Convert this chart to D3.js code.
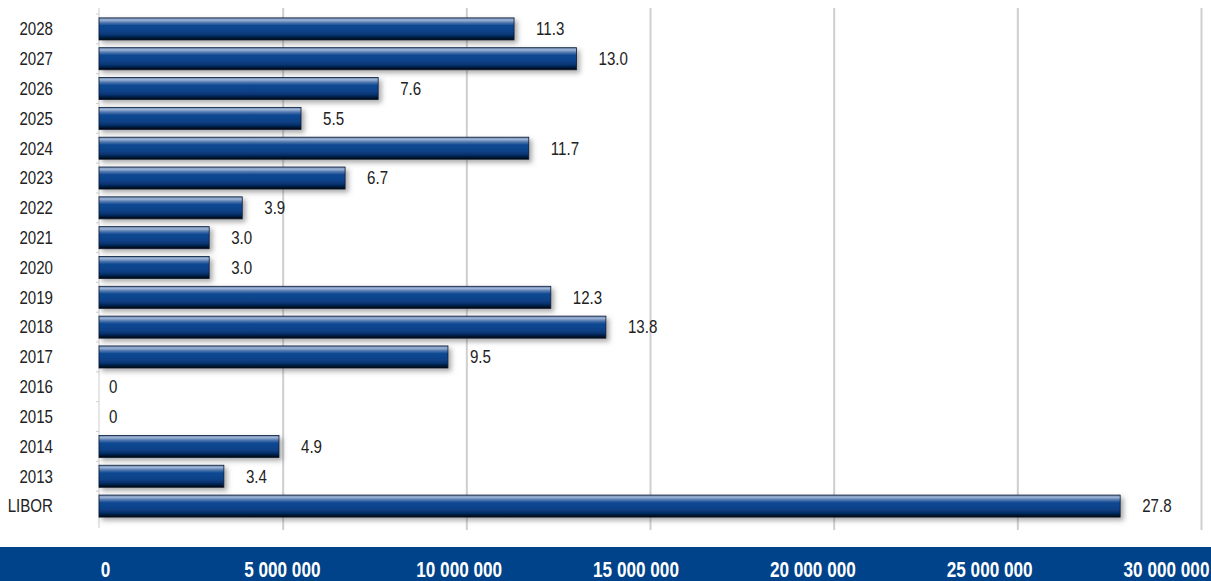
<!DOCTYPE html>
<html>
<head>
<meta charset="utf-8">
<script src="https://cdn.jsdelivr.net/npm/d3@7"></script>
<style>
  body { margin: 0; background: #fff; }
  svg { display: block; }
  text { font-family: "Liberation Sans", Arial, sans-serif; }
</style>
</head>
<body>
<svg id="chart" width="1211" height="581"></svg>
<script>
const width = 1211;
const height = 581;

const categories = ["2028", "2027", "2026", "2025", "2024", "2023", "2022", "2021", "2020",
  "2019", "2018", "2017", "2016", "2015", "2014", "2013", "LIBOR"];
const values = [11.3, 13.0, 7.6, 5.5, 11.7, 6.7, 3.9, 3.0, 3.0,
  12.3, 13.8, 9.5, 0, 0, 4.9, 3.4, 27.8];
const tickValues = [0, 5000000, 10000000, 15000000, 20000000, 25000000, 30000000];

const data = categories.map((c, i) => ({ cat: c, value: values[i] * 1e6, label: values[i] === 0 ? "0" : values[i].toFixed(1) }));

const svg = d3.select("#chart");

// Scales
const xScale = d3.scaleLinear().domain([0, 30000000]).range([99, 1201]);
const yScale = d3.scaleBand().domain(categories).range([14, 521]).paddingInner(0.26).paddingOuter(0.13);
// the labels in the blue band are not quite aligned with the grid
const labelScale = d3.scaleLinear().domain([0, 30000000]).range([105, 1166]);

// no narrow font installed, so squeeze text horizontally
const narrow = 0.84;

// Defs: bar gradient + shadow
const defs = svg.append("defs");
const grad = defs.append("linearGradient")
  .attr("id", "barGrad")
  .attr("x1", 0).attr("y1", 0).attr("x2", 0).attr("y2", 1);
[
  ["0%", "#6b86ad"],
  ["10%", "#9db4d6"],
  ["22%", "#4f76ad"],
  ["35%", "#0d4892"],
  ["62%", "#0a4289"],
  ["80%", "#06306a"],
  ["92%", "#021633"],
  ["100%", "#000000"]
].forEach(s => grad.append("stop").attr("offset", s[0]).attr("stop-color", s[1]));

const shadow = defs.append("filter").attr("id", "shadow")
  .attr("x", "-5%").attr("y", "-30%").attr("width", "115%").attr("height", "180%");
shadow.append("feDropShadow")
  .attr("dx", 3).attr("dy", 3).attr("stdDeviation", 2.5)
  .attr("flood-color", "#555").attr("flood-opacity", 0.5);

// Gridlines
const grid = svg.append("g")
  .attr("transform", "translate(0,530)")
  .call(d3.axisBottom(xScale).tickValues(tickValues.slice(1)).tickSize(-522).tickFormat(""));
grid.select(".domain").remove();
grid.selectAll("line").attr("stroke", "#cfcfcf").attr("stroke-width", 2);

// Left axis line with small ticks between rows
const leftAxis = svg.append("g");
leftAxis.append("line")
  .attr("x1", xScale(0)).attr("x2", xScale(0))
  .attr("y1", 8).attr("y2", 528)
  .attr("stroke", "#dedede").attr("stroke-width", 1.5);
leftAxis.selectAll(".tk")
  .data(categories)
  .enter()
  .append("line")
  .attr("x1", xScale(0) - 3).attr("x2", xScale(0))
  .attr("y1", d => yScale(d) - yScale.step() * yScale.paddingInner() / 2)
  .attr("y2", d => yScale(d) - yScale.step() * yScale.paddingInner() / 2)
  .attr("stroke", "#d0d0d0");

// Bars
svg.append("g")
  .selectAll("rect")
  .data(data.filter(d => d.value > 0))
  .enter()
  .append("rect")
  .attr("x", xScale(0))
  .attr("y", d => yScale(d.cat))
  .attr("width", d => xScale(d.value) - xScale(0))
  .attr("height", yScale.bandwidth())
  .attr("fill", "url(#barGrad)")
  .attr("stroke", "#061a38")
  .attr("stroke-width", 0.8)
  .attr("filter", "url(#shadow)");

// Value labels
svg.append("g")
  .selectAll("text")
  .data(data)
  .enter()
  .append("text")
  .attr("transform", d => "translate(" + (xScale(d.value) + (d.value > 0 ? 22 : 10)) + "," +
    (yScale(d.cat) + yScale.bandwidth() / 2) + ") scale(" + narrow + ",1)")
  .attr("dy", "0.35em")
  .attr("font-size", 18)
  .attr("fill", "#222")
  .text(d => d.label);

// Category labels
svg.append("g")
  .selectAll("text")
  .data(categories)
  .enter()
  .append("text")
  .attr("transform", d => "translate(53," + (yScale(d) + yScale.bandwidth() / 2) + ") scale(" + narrow + ",1)")
  .attr("dy", "0.35em")
  .attr("text-anchor", "end")
  .attr("font-size", 18)
  .attr("fill", "#222")
  .text(d => d);

// Bottom blue band with axis labels
svg.append("rect")
  .attr("x", 0).attr("y", 547)
  .attr("width", width).attr("height", height - 547)
  .attr("fill", "#00438a");

const xAxis = svg.append("g")
  .attr("transform", "translate(0,547)")
  .call(d3.axisBottom(labelScale).tickValues(tickValues).tickSize(0).tickPadding(14)
    .tickFormat(d => d3.format(",")(d).replace(/,/g, " ")));
xAxis.select(".domain").remove();
xAxis.selectAll("text")
  .attr("transform", "scale(0.78,1)")
  .attr("font-family", "'Liberation Sans', Arial, sans-serif")
  .attr("font-size", 22)
  .attr("font-weight", "bold")
  .attr("fill", "#fff");
</script>
</body>
</html>
